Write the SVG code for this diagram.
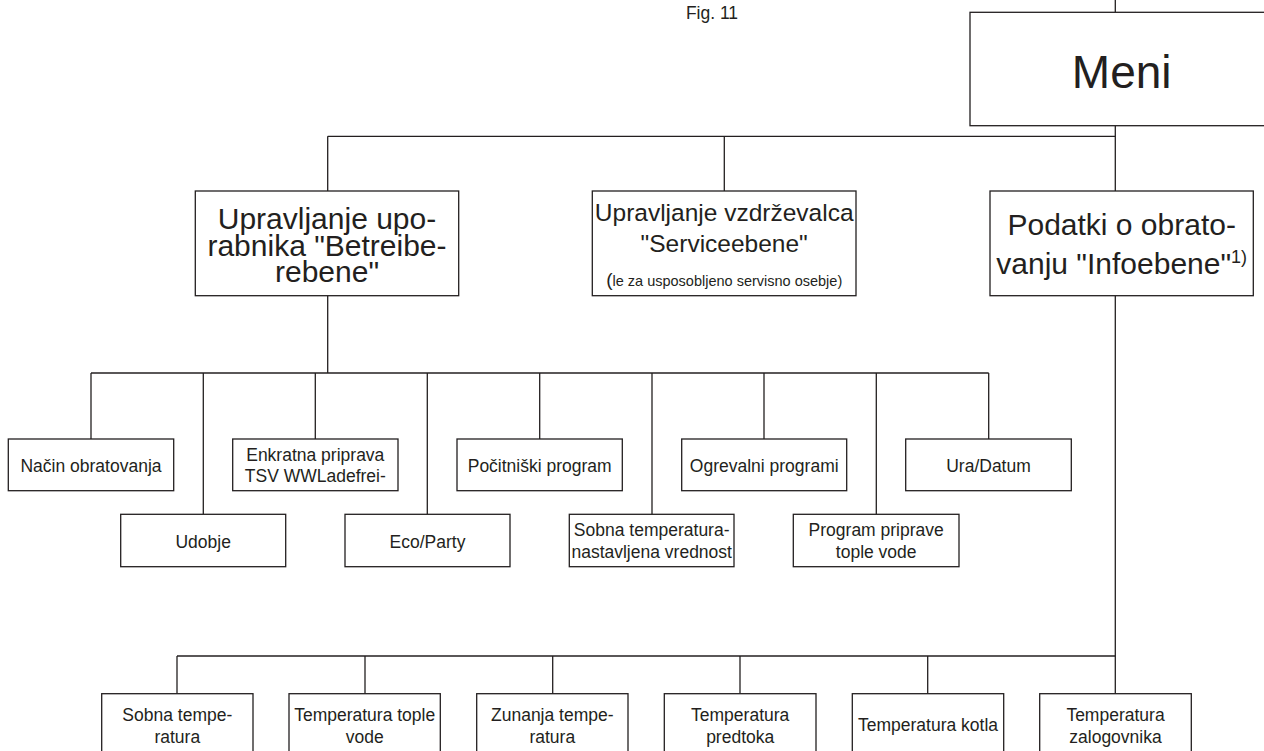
<svg xmlns="http://www.w3.org/2000/svg" width="1264" height="751" viewBox="0 0 1264 751">
<style>
  .box { fill: #ffffff; stroke: #231f20; stroke-width: 1.3; }
  .ln { fill: none; stroke: #231f20; stroke-width: 1.3; }
  text { font-family: "Liberation Sans", Arial, sans-serif; fill: #231f20; text-anchor: middle; }
  .s { font-size: 17.5px; }
  .l { font-size: 30px; }
  .m { font-size: 24.5px; }
</style>
<rect width="1264" height="751" fill="#ffffff"/>
<text x="712" y="18.5" class="s">Fig. 11</text>

<g id="connectors">
  <path class="ln" d="M1115.3 0 V12.3"/>
  <path class="ln" d="M1115.3 125.7 V191"/>
  <path class="ln" d="M327.7 136.3 H1115.3"/>
  <path class="ln" d="M327.7 136.3 V191"/>
  <path class="ln" d="M724.3 136.3 V191"/>
  <path class="ln" d="M327.7 295.7 V373"/>
  <path class="ln" d="M91 373 H988.7"/>
  <path class="ln" d="M91 373 V439"/>
  <path class="ln" d="M203.3 373 V514.3"/>
  <path class="ln" d="M315.3 373 V439"/>
  <path class="ln" d="M427.3 373 V514.3"/>
  <path class="ln" d="M539.7 373 V439"/>
  <path class="ln" d="M652 373 V514.3"/>
  <path class="ln" d="M764 373 V439"/>
  <path class="ln" d="M876.3 373 V514.3"/>
  <path class="ln" d="M988.7 373 V439"/>
  <path class="ln" d="M1115.3 295.7 V693.7"/>
  <path class="ln" d="M177 656 H1115.3"/>
  <path class="ln" d="M177 656 V693.7"/>
  <path class="ln" d="M365 656 V693.7"/>
  <path class="ln" d="M552.7 656 V693.7"/>
  <path class="ln" d="M740 656 V693.7"/>
  <path class="ln" d="M927.7 656 V693.7"/>
</g>

<g id="meni">
  <rect class="box" x="970" y="12.3" width="320" height="113.4"/>
  <text x="1121.7" y="88" style="font-size:46px">Meni</text>
</g>

<g id="upravljanje-uporabnika">
  <rect class="box" x="195.3" y="191" width="263.4" height="104.7"/>
  <text class="l" x="327" y="229.3">Upravljanje upo-</text>
  <text class="l" x="327" y="255.7">rabnika "Betreibe-</text>
  <text class="l" x="327" y="282">rebene"</text>
</g>

<g id="upravljanje-vzdrzevalca">
  <rect class="box" x="592.3" y="191" width="263.7" height="104.7"/>
  <text class="m" x="724.2" y="221">Upravljanje vzdrževalca</text>
  <text class="m" x="724.2" y="252.3">"Serviceebene"</text>
  <text x="724.2" y="285.7" style="font-size:14.5px"><tspan style="font-size:19px">(</tspan>le za usposobljeno servisno osebje)</text>
</g>

<g id="podatki">
  <rect class="box" x="990" y="191" width="263.3" height="104.7"/>
  <text class="l" x="1121.7" y="235">Podatki o obrato-</text>
  <text class="l" x="1121.7" y="274.3">vanju "Infoebene"<tspan dy="-11" style="font-size:18px">1)</tspan></text>
</g>

<g id="nacin-obratovanja">
  <rect class="box" x="8.3" y="439" width="165.4" height="51.7"/>
  <text class="s" x="91" y="471.7">Način obratovanja</text>
</g>
<g id="udobje">
  <rect class="box" x="120.7" y="514.3" width="165" height="52.4"/>
  <text class="s" x="203.2" y="548.3">Udobje</text>
</g>
<g id="enkratna-priprava">
  <rect class="box" x="232.7" y="439" width="165.3" height="51.7"/>
  <text class="s" x="315.3" y="461">Enkratna priprava</text>
  <text class="s" x="315.3" y="482.3">TSV WWLadefrei-</text>
</g>
<g id="eco-party">
  <rect class="box" x="345" y="514.3" width="165" height="52.4"/>
  <text class="s" x="427.5" y="548.3">Eco/Party</text>
</g>
<g id="pocitniski-program">
  <rect class="box" x="457" y="439" width="165.3" height="51.7"/>
  <text class="s" x="539.7" y="471.7">Počitniški program</text>
</g>
<g id="sobna-temperatura-nastavljena">
  <rect class="box" x="569.3" y="514.3" width="164.7" height="52.4"/>
  <text class="s" x="651.7" y="535.7">Sobna temperatura-</text>
  <text class="s" x="651.7" y="557.7">nastavljena vrednost</text>
</g>
<g id="ogrevalni-programi">
  <rect class="box" x="681.7" y="439" width="165" height="51.7"/>
  <text class="s" x="764.2" y="471.7">Ogrevalni programi</text>
</g>
<g id="program-priprave">
  <rect class="box" x="793.3" y="514.3" width="165.7" height="52.4"/>
  <text class="s" x="876.2" y="535.7">Program priprave</text>
  <text class="s" x="876.2" y="557.7">tople vode</text>
</g>
<g id="ura-datum">
  <rect class="box" x="905.7" y="439" width="165.6" height="51.7"/>
  <text class="s" x="988.5" y="471.7">Ura/Datum</text>
</g>

<g id="sobna-temperatura">
  <rect class="box" x="101.7" y="693.7" width="151.3" height="70"/>
  <text class="s" x="177.3" y="720.7">Sobna tempe-</text>
  <text class="s" x="177.3" y="742.7">ratura</text>
</g>
<g id="temperatura-tople-vode">
  <rect class="box" x="289" y="693.7" width="151.3" height="70"/>
  <text class="s" x="364.7" y="720.7">Temperatura tople</text>
  <text class="s" x="364.7" y="742.7">vode</text>
</g>
<g id="zunanja-temperatura">
  <rect class="box" x="476.7" y="693.7" width="151.3" height="70"/>
  <text class="s" x="552.3" y="720.7">Zunanja tempe-</text>
  <text class="s" x="552.3" y="742.7">ratura</text>
</g>
<g id="temperatura-predtoka">
  <rect class="box" x="664.3" y="693.7" width="151.7" height="70"/>
  <text class="s" x="740.2" y="720.7">Temperatura</text>
  <text class="s" x="740.2" y="742.7">predtoka</text>
</g>
<g id="temperatura-kotla">
  <rect class="box" x="852.3" y="693.7" width="151.4" height="70"/>
  <text class="s" x="928" y="731">Temperatura kotla</text>
</g>
<g id="temperatura-zalogovnika">
  <rect class="box" x="1039.7" y="693.7" width="151.6" height="70"/>
  <text class="s" x="1115.5" y="720.7">Temperatura</text>
  <text class="s" x="1115.5" y="742.7">zalogovnika</text>
</g>
</svg>
